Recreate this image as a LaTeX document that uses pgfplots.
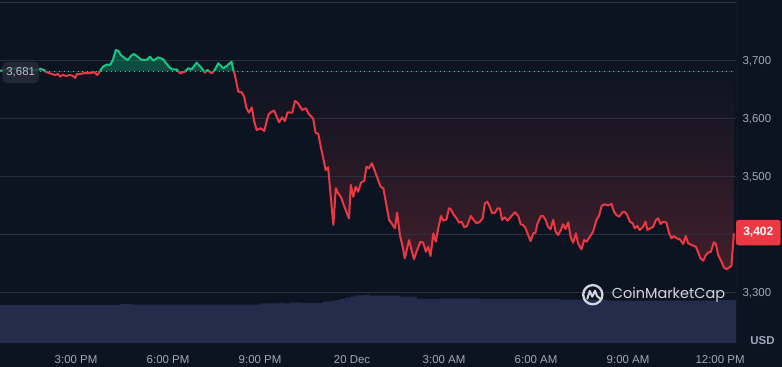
\documentclass[border=0pt]{standalone}
\usepackage{fontspec}
\setmainfont{Liberation Sans}
\newfontfamily\logofont{Poppins}
\usepackage{pgfplots}
\pgfplotsset{compat=1.18}
\usepackage{pgfplotstable}
\definecolor{bg}{HTML}{0D1421}
\definecolor{gridcol}{HTML}{2A303E}
\definecolor{tickcol}{HTML}{A1A7BB}
\definecolor{volcol}{HTML}{232C4A}
\definecolor{cmcgreen}{HTML}{16C784}
\definecolor{cmcred}{HTML}{EA3943}
\definecolor{redfill}{HTML}{421E2B}
\definecolor{labelbg}{HTML}{262B38}
\definecolor{labeltext}{HTML}{B8BDC9}
\definecolor{dotcol}{HTML}{9AA0B0}
\definecolor{logocol}{HTML}{D3D6DE}

\pgfplotstableread{
h p
12.52 3682.1
12.62 3682.5
12.85 3685.0
13.11 3687.6
13.34 3686.8
13.56 3683.3
13.76 3683.3
13.82 3685.6
13.95 3683.3
14.02 3679.9
14.15 3677.6
14.31 3674.7
14.41 3676.4
14.48 3672.1
14.57 3674.7
14.67 3673.0
14.80 3674.7
14.90 3673.0
14.97 3669.5
15.03 3676.4
15.13 3676.4
15.29 3678.1
15.45 3678.1
15.62 3679.0
15.68 3674.7
15.75 3678.1
15.78 3681.6
15.88 3689.0
16.01 3692.8
16.11 3691.9
16.20 3700.6
16.30 3717.8
16.37 3716.6
16.46 3709.2
16.60 3703.1
16.69 3700.6
16.79 3707.5
16.89 3710.9
17.02 3705.7
17.14 3700.6
17.30 3700.6
17.41 3706.2
17.52 3699.4
17.68 3705.2
17.84 3701.8
18.01 3690.2
18.12 3684.5
18.28 3684.5
18.39 3677.6
18.55 3680.4
18.66 3686.3
18.77 3684.5
18.93 3695.9
19.10 3686.3
19.20 3678.7
19.28 3683.3
19.42 3677.6
19.50 3681.6
19.64 3694.9
19.80 3686.3
19.91 3690.2
20.07 3697.6
20.13 3683.3
20.18 3674.7
20.29 3645.9
20.40 3644.9
20.48 3637.3
20.56 3617.3
20.64 3609.7
20.73 3619.0
20.81 3594.2
20.89 3579.9
21.03 3582.8
21.14 3578.2
21.27 3605.7
21.35 3610.4
21.46 3613.2
21.62 3593.2
21.72 3601.8
21.81 3595.4
21.90 3610.4
22.05 3609.7
22.14 3629.9
22.24 3625.9
22.37 3614.4
22.49 3617.3
22.59 3607.5
22.73 3600.0
22.81 3575.2
22.90 3573.0
22.98 3551.1
23.06 3531.1
23.14 3510.9
23.22 3515.6
23.31 3462.1
23.39 3416.1
23.47 3479.4
23.55 3470.7
23.64 3463.8
23.77 3444.9
23.90 3427.6
23.96 3485.1
24.04 3464.9
24.12 3482.1
24.20 3473.5
24.29 3489.0
24.40 3492.5
24.47 3516.6
24.55 3513.8
24.65 3522.5
24.75 3508.0
24.85 3493.7
24.93 3482.1
25.02 3479.4
25.13 3447.6
25.21 3424.7
25.29 3419.0
25.40 3410.4
25.47 3437.3
25.56 3398.9
25.65 3378.7
25.72 3358.7
25.86 3390.2
25.94 3373.0
26.02 3357.0
26.10 3370.1
26.23 3387.3
26.32 3385.6
26.41 3370.1
26.48 3378.7
26.56 3362.7
26.65 3401.8
26.73 3387.3
26.81 3410.4
26.90 3431.6
26.97 3423.5
27.08 3425.9
27.16 3444.9
27.22 3443.2
27.32 3433.3
27.41 3427.6
27.49 3420.1
27.57 3421.8
27.66 3412.1
27.75 3414.4
27.87 3431.6
27.95 3425.9
28.06 3419.0
28.17 3421.8
28.26 3427.6
28.33 3453.5
28.41 3456.3
28.49 3447.6
28.57 3436.3
28.66 3437.3
28.75 3444.9
28.82 3444.9
28.89 3424.7
28.98 3429.4
29.07 3423.5
29.20 3431.6
29.31 3438.0
29.42 3431.6
29.50 3417.3
29.58 3416.1
29.66 3410.4
29.74 3398.9
29.82 3388.5
29.91 3401.8
29.98 3402.8
30.05 3419.0
30.16 3431.6
30.23 3431.6
30.31 3424.7
30.39 3413.2
30.47 3408.7
30.56 3424.7
30.64 3404.5
30.72 3398.9
30.81 3407.5
30.88 3417.3
30.96 3409.2
31.05 3420.8
31.13 3394.9
31.21 3385.6
31.30 3401.8
31.37 3384.5
31.48 3374.2
31.57 3390.2
31.65 3387.3
31.75 3395.9
31.86 3404.5
31.97 3424.7
32.05 3431.6
32.14 3448.9
32.22 3451.8
32.35 3450.0
32.46 3452.3
32.54 3439.0
32.62 3433.3
32.71 3430.4
32.82 3438.0
32.90 3438.5
32.97 3433.3
33.06 3421.8
33.15 3419.0
33.22 3410.4
33.30 3414.4
33.38 3407.5
33.49 3413.2
33.57 3421.8
33.63 3407.5
33.73 3410.4
33.82 3413.2
33.91 3424.7
33.98 3427.6
34.06 3417.8
34.14 3421.8
34.25 3420.1
34.34 3401.8
34.42 3393.2
34.50 3397.1
34.58 3393.2
34.69 3391.4
34.80 3383.3
34.88 3397.1
34.96 3384.5
35.07 3381.6
35.21 3378.7
35.28 3370.1
35.36 3358.7
35.45 3354.5
35.54 3364.4
35.61 3368.3
35.70 3370.1
35.80 3386.3
35.86 3383.3
35.94 3364.4
36.05 3352.8
36.12 3343.2
36.21 3339.7
36.30 3343.2
36.37 3345.4
36.45 3401.8
}\price

\pgfplotstableread{
h v
12.52 33.2
16.43 34.1
16.82 33.6
20.99 34.7
21.65 35.0
21.81 34.6
21.97 35.6
22.30 35.2
23.05 36.1
23.28 36.7
23.44 37.6
23.60 38.5
23.77 39.6
23.93 40.5
24.09 41.7
24.35 42.0
24.58 41.4
25.56 40.5
26.11 38.5
26.86 38.9
28.17 38.5
30.78 38.0
32.31 37.0
36.00 37.6
36.52 37.6
}\volume

\begin{document}
\begin{tikzpicture}
\fill[bg] (0bp,0bp) rectangle (782bp,367bp);
\useasboundingbox (0bp,0bp) rectangle (782bp,367bp);

% red gradient between the baseline and the price, below the baseline
\begin{axis}[at={(0bp,24bp)}, anchor=south west, scale only axis,
  width=736bp, height=271.66bp, xmin=12.52, xmax=36.52, ymin=3212.7, ymax=3681, hide axis]
\path[top color=bg, bottom color=redfill] (axis cs:12.52,3681) rectangle (axis cs:36.45,3338);
\addplot[fill=bg, draw=none] table[x=h,y=p] {\price} \closedcycle;
\end{axis}

% volume
\begin{axis}[at={(0bp,24bp)}, anchor=south west, scale only axis,
  width=736bp, height=343bp, xmin=12.52, xmax=36.52, ymin=0, ymax=300, hide axis]
\addplot[const plot, fill=volcol, draw=none] table[x=h,y=v] {\volume} \closedcycle;
\end{axis}

% main axis: grid and labels
\begin{axis}[at={(0bp,24bp)}, anchor=south west, scale only axis,
  width=736bp, height=343bp, xmin=12.52, xmax=36.52, ymin=3212.7, ymax=3804,
  axis line style={draw=none}, major tick length=0pt, tick style={draw=none},
  xtick={15,18,21,24,27,30,33,36},
  xticklabels={3:00 PM,6:00 PM,9:00 PM,20 Dec,3:00 AM,6:00 AM,9:00 AM,12:00 PM},
  ytick={3300,3400,3500,3600,3700,3800},
  yticklabels={{3,300},{},{3,500},{3,600},{3,700},{}},
  yticklabel pos=right, ymajorgrids,
  grid style={draw=gridcol, line width=0.8bp},
  ticklabel style={font=\fontsize{11.5}{12}\selectfont, text=tickcol},
  xticklabel style={anchor=base, yshift=-20.5bp},
  yticklabel style={anchor=base west, xshift=3bp, yshift=-4bp}]
\addplot[draw=none] coordinates {(12.52,3300)};
\draw[gridcol, line width=0.8bp] (rel axis cs:1,0) -- (rel axis cs:1,1);
\end{axis}

\draw[dotcol, line width=1bp, dash pattern=on 1bp off 3.7bp] (40bp,295.66bp) -- (733bp,295.66bp);

% above baseline: green fill and line
\begin{axis}[at={(0bp,295.66bp)}, anchor=south west, scale only axis,
  width=736bp, height=71.34bp, xmin=12.52, xmax=36.52, ymin=3681, ymax=3804, hide axis]
\addplot[fill=cmcgreen, fill opacity=0.32, draw=none] table[x=h,y=p] {\price} \closedcycle;
\addplot[cmcgreen, line width=2bp, line join=round] table[x=h,y=p] {\price};
\end{axis}

% below baseline: red line
\begin{axis}[at={(0bp,24bp)}, anchor=south west, scale only axis,
  width=736bp, height=271.66bp, xmin=12.52, xmax=36.52, ymin=3212.7, ymax=3681, hide axis]
\addplot[cmcred, line width=2bp, line join=round] table[x=h,y=p] {\price};
\end{axis}

% labels
\fill[labelbg, opacity=0.85, rounded corners=5bp] (2.3bp,283.7bp) rectangle (39bp,305.3bp);
\node[text=labeltext, font=\fontsize{11.5}{12}\selectfont, inner sep=0pt] at (20.7bp,294.5bp) {3,681};
\fill[cmcred, rounded corners=2.5bp] (736bp,121.7bp) rectangle (780.7bp,147bp);
\node[text=white, font=\bfseries\fontsize{12}{12}\selectfont, inner sep=0pt] at (758.3bp,134.3bp) {3,402};
\node[text=tickcol, font=\bfseries\fontsize{11.5}{12}\selectfont, inner sep=0pt] at (762.5bp,26.3bp) {USD};

% logo
\draw[logocol, line width=2.3bp] (592.8bp,72.3bp) circle (9.6bp);
\draw[logocol, line width=2bp, line join=round, line cap=round]
  (587.3bp,68.3bp) -- (589.8bp,76bp) -- (592.3bp,70.3bp) -- (595bp,76.3bp) -- (597bp,71bp) -- (600bp,68.5bp);
\node[anchor=west, text=logocol, font=\logofont\fontsize{14.5}{15}\selectfont, inner sep=0pt] at (611.7bp,72bp) {CoinMarketCap};
\end{tikzpicture}
\end{document}
